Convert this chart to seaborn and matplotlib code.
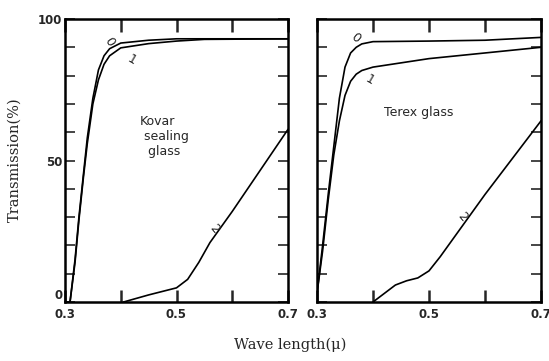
import numpy as np
import pandas as pd
import matplotlib
matplotlib.use("Agg")
import matplotlib.pyplot as plt
import seaborn as sns

# Kovar sealing glass
kovar_x0 = [0.300, 0.309, 0.318, 0.325, 0.333, 0.340, 0.345, 0.350, 0.360, 0.370, 0.380, 0.400, 0.450, 0.500, 0.700]
kovar_y0 = [0, 0, 15, 30, 45, 58, 65, 72, 82, 87, 89.5, 91.5, 92.5, 93, 93]
kovar_x1 = [0.300, 0.309, 0.318, 0.325, 0.333, 0.340, 0.345, 0.350, 0.360, 0.370, 0.380, 0.400, 0.450, 0.500, 0.550, 0.700]
kovar_y1 = [0, 0, 14, 29, 44, 56, 63, 70, 78.5, 84, 87, 89.8, 91.3, 92.2, 92.8, 93]
kovar_x2 = [0.405, 0.450, 0.500, 0.520, 0.540, 0.560, 0.600, 0.650, 0.700]
kovar_y2 = [0, 2.5, 5, 8, 14, 21, 32, 46.5, 61]

# Terex glass
terex_x0 = [0.300, 0.310, 0.320, 0.330, 0.340, 0.350, 0.360, 0.370, 0.380, 0.400, 0.500, 0.600, 0.700]
terex_y0 = [3, 20, 38, 55, 72, 83, 88, 90, 91.2, 92, 92.2, 92.5, 93.5]
terex_x1 = [0.300, 0.310, 0.320, 0.330, 0.340, 0.350, 0.360, 0.370, 0.380, 0.400, 0.450, 0.500, 0.600, 0.700]
terex_y1 = [3, 18, 36, 52, 64, 73, 78, 80.5, 81.8, 83, 84.5, 86, 88, 90]
terex_x2 = [0.400, 0.420, 0.440, 0.460, 0.480, 0.500, 0.520, 0.540, 0.560, 0.600, 0.650, 0.700]
terex_y2 = [0, 3, 6, 7.5, 8.5, 11, 16, 21.5, 27, 38, 51, 64]

curve_names = ["0", "1", "2"]


def make_df(xs, ys):
    parts = []
    for name, x, y in zip(curve_names, xs, ys):
        parts.append(pd.DataFrame({"wl": x, "T": y, "curve": name}))
    return pd.concat(parts, ignore_index=True)


kovar = make_df([kovar_x0, kovar_x1, kovar_x2], [kovar_y0, kovar_y1, kovar_y2])
terex = make_df([terex_x0, terex_x1, terex_x2], [terex_y0, terex_y1, terex_y2])

sns.set_style("ticks")
plt.rcParams["font.family"] = ["DejaVu Sans"]

fig = plt.figure(figsize=(5.49, 3.61), dpi=100)
ax1 = fig.add_axes([65 / 549, 59 / 361, 223 / 549, 283 / 361])
ax2 = fig.add_axes([317 / 549, 59 / 361, 224 / 549, 283 / 361])

pal = {"0": "black", "1": "black", "2": "black"}
sns.lineplot(data=kovar, x="wl", y="T", hue="curve", palette=pal, units="curve",
             estimator=None, sort=False, legend=False, linewidth=1.2, ax=ax1)
sns.lineplot(data=terex, x="wl", y="T", hue="curve", palette=pal, units="curve",
             estimator=None, sort=False, legend=False, linewidth=1.2, ax=ax2)

for ax in (ax1, ax2):
    ax.set_xlim(0.3, 0.7)
    ax.set_ylim(0, 100)
    ax.set_xlabel("")
    ax.set_ylabel("")
    for s in ax.spines.values():
        s.set_visible(True)
        s.set_linewidth(1.8)
        s.set_color("black")
    ax.set_xticks([0.3, 0.4, 0.5, 0.6, 0.7])
    ax.set_xticklabels(["0.3", "", "0.5", "", "0.7"], fontweight="bold", fontsize=8.5)
    ax.set_yticks(np.arange(0, 101, 10))
    ax.tick_params(axis="x", direction="in", length=9, width=1.8, top=True, bottom=True, pad=4)
    ax.tick_params(axis="y", direction="in", length=7, width=1.2, left=True, right=True, pad=2)

ax1.set_yticklabels(["0", "", "", "", "", "50", "", "", "", "", "100"], fontweight="bold", fontsize=8.5)
ax1.get_yticklabels()[0].set_va("bottom")
ax2.set_yticklabels([])

# curve labels
ax1.text(0.380, 92, "0", fontsize=9, rotation=-60, ha="center", va="center")
ax1.text(0.420, 85.5, "1", fontsize=9, rotation=-30, ha="center", va="center")
ax1.text(0.568, 26, "2", fontsize=9, rotation=-50, ha="center", va="center")
ax2.text(0.368, 93.5, "0", fontsize=9, rotation=-40, ha="center", va="center")
ax2.text(0.395, 78.5, "1", fontsize=9, rotation=-30, ha="center", va="center")
ax2.text(0.559, 30, "2", fontsize=9, rotation=-50, ha="center", va="center")

ax1.text(0.434, 66, "Kovar\n sealing\n  glass", fontsize=9, ha="left", va="top", linespacing=1.2)
ax2.text(0.420, 67, "Terex glass", fontsize=9, ha="left", va="center")

fig.text(290 / 549, 1 - 345 / 361, "Wave length(\u03bc)", family="DejaVu Serif",
         fontsize=10.5, ha="center", va="center")
fig.text(15 / 549, 1 - 160 / 361, "Transmission(%)", family="DejaVu Serif",
         fontsize=10.5, ha="center", va="center", rotation=90)

fig.savefig("out.png", dpi=100)
